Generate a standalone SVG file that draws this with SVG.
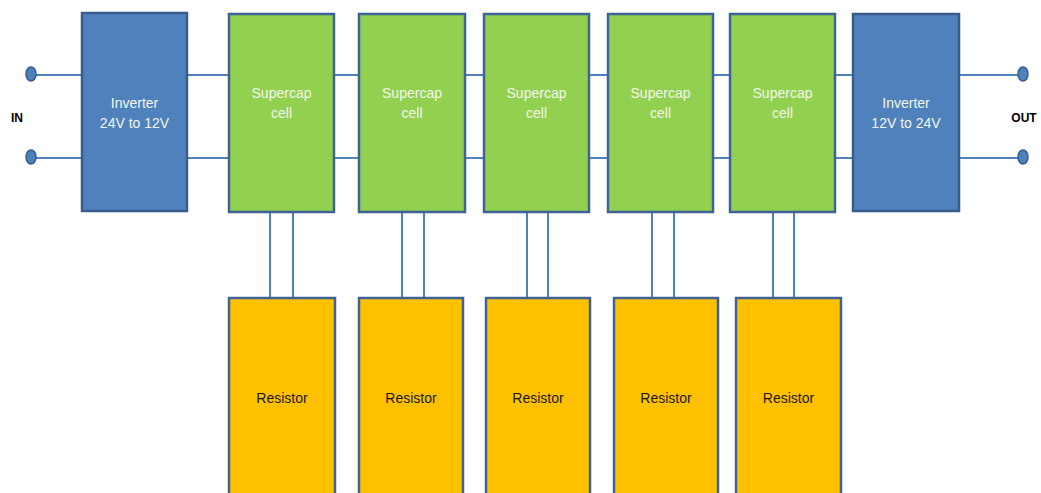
<svg xmlns="http://www.w3.org/2000/svg" width="1041" height="493" viewBox="0 0 1041 493">
<style>
.inv{fill:#4F81BD;stroke:#385D8A;stroke-width:2.5}
.cap{fill:#92D050;stroke:#3F6397;stroke-width:2.5}
.res{fill:#FFC000;stroke:#3F6397;stroke-width:2.5}
.w{stroke:#4F81BD;stroke-width:2;fill:none}
.term{fill:#4F81BD;stroke:#385D8A;stroke-width:1.5}
.lt{font-family:"Liberation Sans",Arial,sans-serif;font-size:14px;fill:#F2F7EC;text-anchor:middle}
.dk{font-family:"Liberation Sans",Arial,sans-serif;font-size:14px;fill:#1a1a1a;text-anchor:middle}
.lb{font-family:"Liberation Sans",Arial,sans-serif;font-size:12px;font-weight:bold;fill:#000;text-anchor:middle}
</style>
<rect width="1041" height="493" fill="#fff"/>
<g id="connectors">
<path class="w" d="M31 75H1023M31 158H1023"/>
<path class="w" d="M270 212V298M293 212V298M402 212V298M424 212V298M527 212V298M548 212V298M652 212V298M674 212V298M773 212V298M794 212V298"/>
</g>
<g id="in-terminals">
<ellipse class="term" cx="31" cy="74" rx="5" ry="7"/>
<ellipse class="term" cx="31" cy="157" rx="5" ry="7"/>
<text class="lb" x="17" y="122">IN</text>
</g>
<g id="out-terminals">
<ellipse class="term" cx="1023" cy="74" rx="5" ry="7"/>
<ellipse class="term" cx="1023" cy="157" rx="5" ry="7"/>
<text class="lb" x="1024" y="122">OUT</text>
</g>
<g id="inverter1"><rect class="inv" x="82" y="13" width="105" height="198"/><text class="lt" x="134.5" y="108">Inverter</text><text class="lt" x="134.5" y="128">24V to 12V</text></g>
<g id="cap1"><rect class="cap" x="229" y="14" width="105" height="198"/><text class="lt" x="281.5" y="98">Supercap</text><text class="lt" x="281.5" y="118">cell</text></g>
<g id="cap2"><rect class="cap" x="359" y="14" width="106" height="198"/><text class="lt" x="412" y="98">Supercap</text><text class="lt" x="412" y="118">cell</text></g>
<g id="cap3"><rect class="cap" x="484" y="14" width="105" height="198"/><text class="lt" x="536.5" y="98">Supercap</text><text class="lt" x="536.5" y="118">cell</text></g>
<g id="cap4"><rect class="cap" x="608" y="14" width="105" height="198"/><text class="lt" x="660.5" y="98">Supercap</text><text class="lt" x="660.5" y="118">cell</text></g>
<g id="cap5"><rect class="cap" x="730" y="14" width="105" height="198"/><text class="lt" x="782.5" y="98">Supercap</text><text class="lt" x="782.5" y="118">cell</text></g>
<g id="inverter2"><rect class="inv" x="853" y="14" width="106" height="197"/><text class="lt" x="906" y="108">Inverter</text><text class="lt" x="906" y="128">12V to 24V</text></g>
<g id="res1"><rect class="res" x="229" y="298" width="106" height="205"/><text class="dk" x="282" y="403">Resistor</text></g>
<g id="res2"><rect class="res" x="359" y="298" width="104" height="205"/><text class="dk" x="411" y="403">Resistor</text></g>
<g id="res3"><rect class="res" x="486" y="298" width="104" height="205"/><text class="dk" x="538" y="403">Resistor</text></g>
<g id="res4"><rect class="res" x="614" y="298" width="104" height="205"/><text class="dk" x="666" y="403">Resistor</text></g>
<g id="res5"><rect class="res" x="736" y="298" width="105" height="205"/><text class="dk" x="788.5" y="403">Resistor</text></g>
</svg>
